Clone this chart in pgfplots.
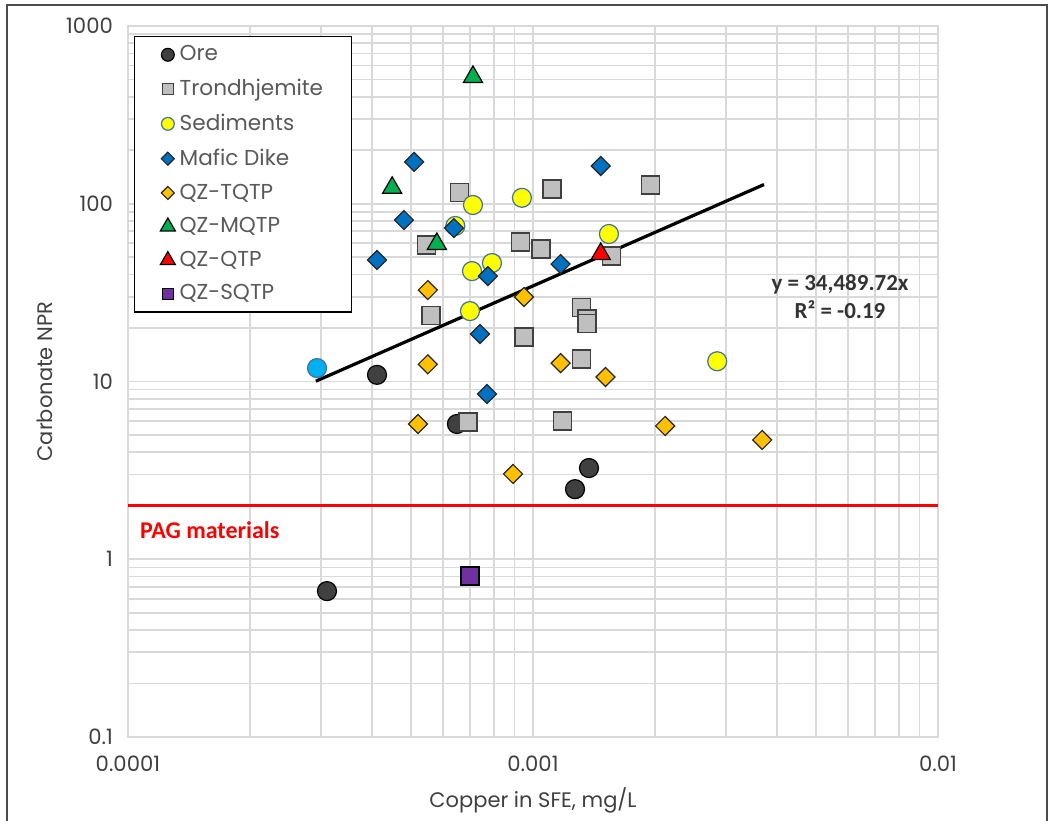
\documentclass[border=0pt]{standalone}
\usepackage{fontspec}
\setmainfont{Poppins}
\newfontfamily\calib{Carlito}
\usepackage{pgfplots}
\pgfplotsset{compat=1.18}
\usetikzlibrary{calc}

\definecolor{gridc}{HTML}{D9D9D9}
\definecolor{txt}{HTML}{595959}
\definecolor{tick}{HTML}{404040}
\definecolor{orec}{HTML}{404040}
\definecolor{trondc}{HTML}{BFBFBF}
\definecolor{sedc}{HTML}{FFFF00}
\definecolor{sedline}{HTML}{41719C}
\definecolor{maficc}{HTML}{0070C0}
\definecolor{tqtpc}{HTML}{FFC000}
\definecolor{mqtpc}{HTML}{00B050}
\definecolor{qtpc}{HTML}{FF0000}
\definecolor{sqtpc}{HTML}{7030A0}
\definecolor{cyanc}{HTML}{00B0F0}

\begin{document}
\begin{tikzpicture}
\begin{axis}[
    scale only axis,
    width=405pt, height=355.5pt,
    xmode=log, ymode=log,
    xmin=1e-4, xmax=1e-2,
    ymin=0.1, ymax=1000,
    xtick={1e-4,1e-3,1e-2},
    xticklabels={0.0001,0.001,0.01},
    ytick={0.1,1,10,100,1000},
    yticklabels={0.1,1,10,100,1000},
    minor xtick={2e-4,3e-4,4e-4,5e-4,6e-4,7e-4,8e-4,9e-4,2e-3,3e-3,4e-3,5e-3,6e-3,7e-3,8e-3,9e-3},
    minor ytick={0.2,0.3,0.4,0.5,0.6,0.7,0.8,0.9,2,3,4,5,6,7,8,9,20,30,40,50,60,70,80,90,200,300,400,500,600,700,800,900},
    grid=both,
    major grid style={draw=gridc, line width=0.8pt},
    minor grid style={draw=gridc, line width=0.8pt},
    axis line style={draw=gridc, line width=0.8pt},
    tick style={draw=none},
    ticklabel style={font=\fontsize{10.6}{12}\selectfont, text=tick},
    xticklabel style={yshift=-6pt},
    yticklabel style={xshift=-4pt},
    xlabel={Copper in SFE, mg/L},
    ylabel={Carbonate NPR},
    label style={font=\fontsize{10.5}{12}\selectfont, text=tick},
    xlabel style={yshift=-1pt},
    clip=false,
    legend style={
        at={(0.0074,0.986)}, anchor=north west,
        draw=black, line width=0.7pt,
        font=\fontsize{10.8}{12}\selectfont, text=txt,
        cells={anchor=west}, row sep=3.7pt,
        inner xsep=6pt, inner ysep=2.5pt,
        nodes={inner xsep=2.2pt},
    },
    legend image code/.code={\path (0cm,0cm); \draw[#1] plot coordinates {(0.36cm,0cm)};},
]

\addplot[only marks, mark=*, mark size=4.75pt,
    mark options={fill=orec, draw=black, line width=0.6pt},
    legend image post style={mark size=3.2pt}]
    coordinates {(3.10e-4,0.662) (4.12e-4,10.9) (6.49e-4,5.77) (1.27e-3,2.48) (1.375e-3,3.26)};

\addplot[only marks, mark=square*, mark size=4.5pt,
    mark options={fill=trondc, draw=orec, line width=0.6pt},
    legend image post style={mark size=2.8pt}]
    coordinates {(6.6e-4,116) (5.47e-4,58.6) (5.6e-4,23.4) (6.91e-4,5.92) (9.33e-4,60.9)
    (9.5e-4,17.8) (1.047e-3,55.6) (1.114e-3,121) (1.955e-3,127.5) (1.56e-3,50.8)
    (1.32e-3,26.2) (1.36e-3,22.5) (1.36e-3,21.1) (1.32e-3,13.4) (1.18e-3,6.0)};

\addplot[only marks, mark=*, mark size=4.75pt,
    mark options={fill=sedc, draw=sedline, line width=0.6pt},
    legend image post style={mark size=3.2pt}]
    coordinates {(7.11e-4,98.4) (9.39e-4,108) (6.43e-4,75) (7.07e-4,41.8) (7.92e-4,46.4)
    (6.99e-4,24.9) (1.54e-3,67.6) (2.85e-3,13.0)};

\addplot[only marks, mark=square*, mark size=3.36pt,
    mark options={fill=maficc, draw=black!85, line width=0.6pt, rotate=45},
    legend image post style={mark size=2.3pt}]
    coordinates {(5.09e-4,172) (1.47e-3,163) (4.8e-4,81) (6.38e-4,73) (4.12e-4,48.3)
    (7.74e-4,39.2) (1.17e-3,45.8) (7.4e-4,18.5) (7.7e-4,8.5)};

\addplot[only marks, mark=square*, mark size=3.36pt,
    mark options={fill=tqtpc, draw=black!85, line width=0.6pt, rotate=45},
    legend image post style={mark size=2.3pt}]
    coordinates {(5.5e-4,32.7) (9.5e-4,29.9) (5.5e-4,12.5) (1.17e-3,12.7) (1.51e-3,10.6)
    (5.2e-4,5.77) (8.93e-4,3.02) (2.12e-3,5.62) (3.68e-3,4.69)};

\addplot[only marks, mark=triangle*, mark size=5.5pt,
    mark options={fill=mqtpc, draw=black, line width=0.6pt},
    legend image post style={mark size=4.3pt}]
    coordinates {(7.11e-4,517) (4.49e-4,123) (5.79e-4,59.4)};

\addplot[only marks, mark=triangle*, mark size=5.5pt,
    mark options={fill=qtpc, draw=black, line width=0.6pt},
    legend image post style={mark size=4.3pt}]
    coordinates {(1.47e-3,52.2)};

\addplot[only marks, mark=square*, mark size=4.5pt,
    mark options={fill=sqtpc, draw=black, line width=0.6pt},
    legend image post style={mark size=2.8pt}]
    coordinates {(6.99e-4,0.805)};

\legend{Ore, Trondhjemite\hspace*{6pt}, Sediments, Mafic Dike, QZ-TQTP, QZ-MQTP, QZ-QTP, QZ-SQTP}

% point outside the legend
\addplot[only marks, mark=*, mark size=4.75pt, forget plot,
    mark options={fill=cyanc, draw=sedline, line width=0.6pt}]
    coordinates {(2.93e-4,11.9)};

% trend line
\addplot[black, line width=1.6pt, forget plot] coordinates {(2.91e-4,10.04) (3.72e-3,128.3)};

% PAG threshold
\addplot[qtpc, line width=1.6pt, forget plot] coordinates {(1e-4,2) (1e-2,2)};

\node[anchor=west, text=qtpc, font=\calib\bfseries\fontsize{12}{14}\selectfont]
    at (axis cs:1.03e-4,1.46) {PAG materials};
\node[align=center, text=black!80, font=\calib\bfseries\fontsize{11.5}{14}\selectfont]
    at (axis cs:5.73e-3,30.2) {y = 34,489.72x\\R² = -0.19};
\end{axis}
\pgfresetboundingbox
\path[use as bounding box] ($(current axis.south west)+(-64pt,-41.5pt)$) rectangle ($(current axis.north east)+(56pt,13pt)$);
\draw[black!70, line width=0.8pt] ($(current axis.south west)+(-60.5pt,-50pt)$) rectangle ($(current axis.north east)+(54.5pt,10.5pt)$);
\end{tikzpicture}
\end{document}
